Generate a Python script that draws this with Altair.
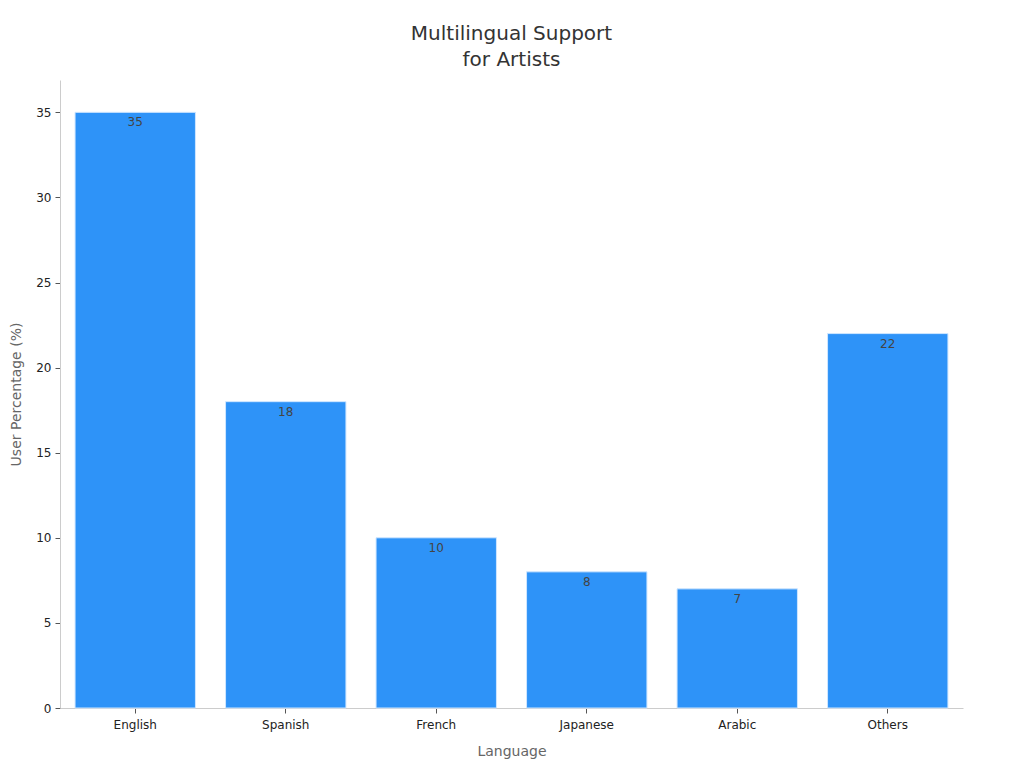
import altair as alt
import pandas as pd

languages = ["English", "Spanish", "French", "Japanese", "Arabic", "Others"]
percentages = [35, 18, 10, 8, 7, 22]

df = pd.DataFrame({"Language": languages, "User Percentage (%)": percentages})

base = alt.Chart(df).encode(
    x=alt.X("Language:N", sort=languages,
            scale=alt.Scale(paddingInner=0.2, paddingOuter=0.1),
            axis=alt.Axis(title="Language", labelAngle=0, labelFontSize=12,
                          labelColor="#222222", titleFontSize=14, titleColor="#666666",
                          titleFontWeight="normal", titlePadding=14, labelPadding=6,
                          tickColor="#555555", tickSize=5, domainColor="#cccccc",
                          labelFont="DejaVu Sans", titleFont="DejaVu Sans")),
    y=alt.Y("User Percentage (%):Q",
            scale=alt.Scale(domain=[0, 36.9], nice=False),
            axis=alt.Axis(title="User Percentage (%)", values=[0, 5, 10, 15, 20, 25, 30, 35],
                          labelFontSize=12, labelColor="#222222", titleFontSize=14,
                          titleColor="#666666", titleFontWeight="normal", grid=False,
                          tickColor="#555555", tickSize=5, domainColor="#cccccc",
                          labelPadding=4, titlePadding=12,
                          labelFont="DejaVu Sans", titleFont="DejaVu Sans")),
)

bars = base.mark_bar(color="#2e93f8", stroke="#cfe6ff", strokeWidth=1)
labels = base.mark_text(baseline="top", dy=5, fontSize=12, color="#444444",
                        font="DejaVu Sans").encode(text="User Percentage (%):Q")

chart = (bars + labels).properties(
    width=903, height=628,
    title=alt.TitleParams(["Multilingual Support", "for Artists"], fontSize=20,
                          font="DejaVu Sans", fontWeight="normal", color="#333333",
                          anchor="middle", offset=10, lineHeight=26),
    autosize=alt.AutoSizeParams(type="none"),
    padding={"left": 52, "top": 72, "right": 53, "bottom": 52},
).configure_view(stroke=None)

chart.save("out.html", embed_options={"renderer": "svg", "actions": False})
